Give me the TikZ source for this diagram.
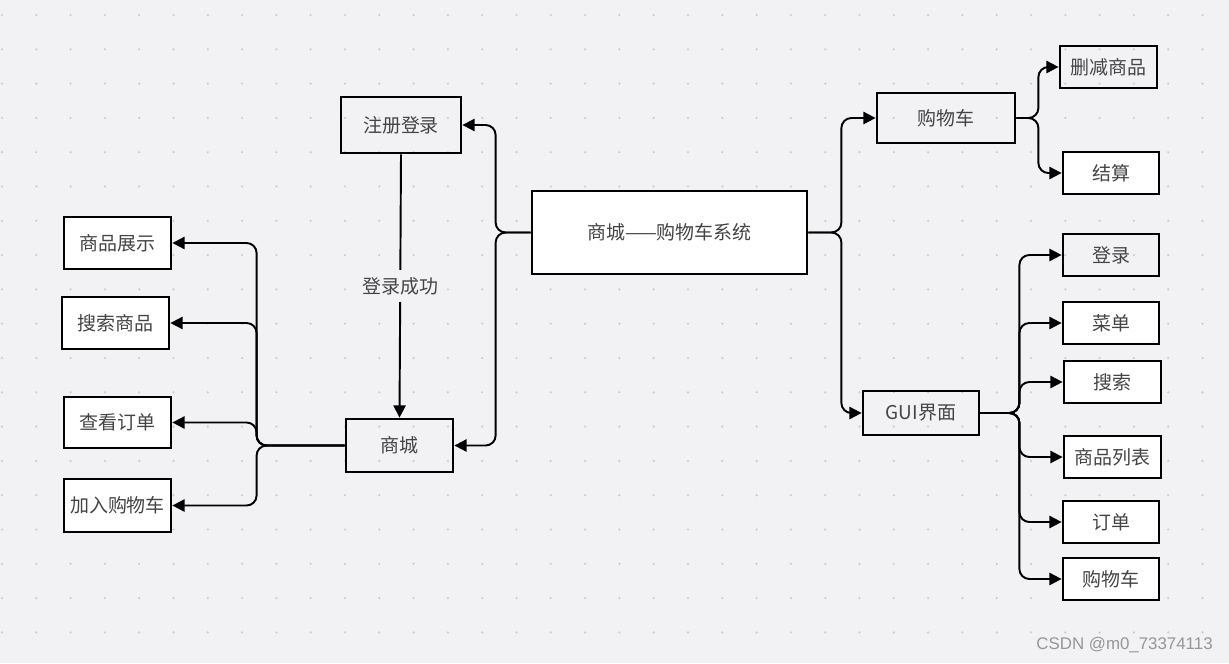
\documentclass[tikz,border=0pt]{standalone}
\usepackage{fontspec}
\setmainfont{Noto Sans CJK SC}
\newfontfamily\markfont{Liberation Sans}
\usetikzlibrary{arrows.meta}
\definecolor{bgcol}{RGB}{242,242,244}
\definecolor{dotcol}{RGB}{204,204,208}
\definecolor{txtcol}{RGB}{68,68,68}
\definecolor{markcol}{RGB}{150,150,150}
\begin{document}
\begin{tikzpicture}[x=0.02cm, y=-0.02cm, font=\fontsize{10.8}{13}\selectfont,
    box/.style={draw, line width=1.6pt, fill=white, inner sep=0pt, text=txtcol},
    clearbox/.style={draw, line width=1.6pt, inner sep=0pt, text=txtcol},
    link/.style={line width=1.1pt, rounded corners=0.2cm, -{Triangle[length=7pt, width=7pt]}}]
  % canvas and dot grid
  \fill[bgcol] (0,0) rectangle (1229,663);
  \useasboundingbox (0,0) rectangle (1229,663);
  \foreach \i in {0,...,35}
    \foreach \j in {0,...,18}
      \fill[dotcol] (2+34.3*\i, 15+34.3*\j) circle[radius=0.7pt];

  % centre
  \node[box, minimum width=5.5cm, minimum height=1.66cm] (sys) at (669.5,232.5) {商城——购物车系统};

  % left half
  \node[clearbox, minimum width=2.4cm, minimum height=1.12cm] (reg) at (401,125) {注册登录};
  \node[clearbox, minimum width=2.14cm, minimum height=1.06cm] (mall) at (399.5,445.5) {商城};
  \node[box, minimum width=2.14cm, minimum height=1.04cm] (show) at (117.5,243) {商品展示};
  \node[box, minimum width=2.14cm, minimum height=1.04cm] (seek) at (115.5,323) {搜索商品};
  \node[box, minimum width=2.14cm, minimum height=1.02cm] (myorders) at (117.5,422.5) {查看订单};
  \node[box, minimum width=2.14cm, minimum height=1.06cm] (addcart) at (117.5,505.5) {加入购物车};

  % right half
  \node[clearbox, minimum width=2.76cm, minimum height=1.0cm] (cart) at (946,118) {购物车};
  \node[clearbox, minimum width=1.94cm, minimum height=0.84cm] (remove) at (1108.5,67) {删减商品};
  \node[box, minimum width=1.92cm, minimum height=0.84cm] (pay) at (1111,173) {结算};
  \node[clearbox, minimum width=2.32cm, minimum height=0.88cm] (gui) at (921,413) {GUI界面};
  \node[clearbox, minimum width=1.92cm, minimum height=0.84cm] (login) at (1111,255) {登录};
  \node[box, minimum width=1.92cm, minimum height=0.84cm] (menu) at (1111,323) {菜单};
  \node[box, minimum width=1.94cm, minimum height=0.84cm] (find) at (1112.5,382) {搜索};
  \node[box, minimum width=1.94cm, minimum height=0.84cm] (list) at (1112.5,457) {商品列表};
  \node[box, minimum width=1.92cm, minimum height=0.84cm] (order) at (1111,522) {订单};
  \node[box, minimum width=1.92cm, minimum height=0.84cm] (gcart) at (1111,579) {购物车};

  % connectors
  \draw[link] (sys.west) -- ++(-35,0) |- (reg.east);
  \draw[link] (sys.west) -- ++(-35,0) |- (mall.east);
  \draw[link] (sys.east) -- ++(33,0) |- (cart.west);
  \draw[link] (sys.east) -- ++(33,0) |- (gui.west);
  \draw[link] (reg.south) -- node[fill=bgcol, text=txtcol, inner xsep=1pt, inner ysep=4pt] {登录成功} (mall.north);
  \foreach \t in {show, seek, myorders, addcart}
    \draw[link] (mall.west) -- ++(-88,0) |- (\t.east);
  \foreach \t in {remove, pay}
    \draw[link] (cart.east) -- ++(22,0) |- (\t.west);
  \foreach \t in {login, menu, find, list, order, gcart}
    \draw[link] (gui.east) -- ++(39,0) |- (\t.west);

  \node[anchor=east, inner sep=0pt, text=markcol, font=\markfont\fontsize{9.6}{12}\selectfont] (mark) at (1213,645) {CSDN @m0\_73374113};
\end{tikzpicture}
\end{document}
